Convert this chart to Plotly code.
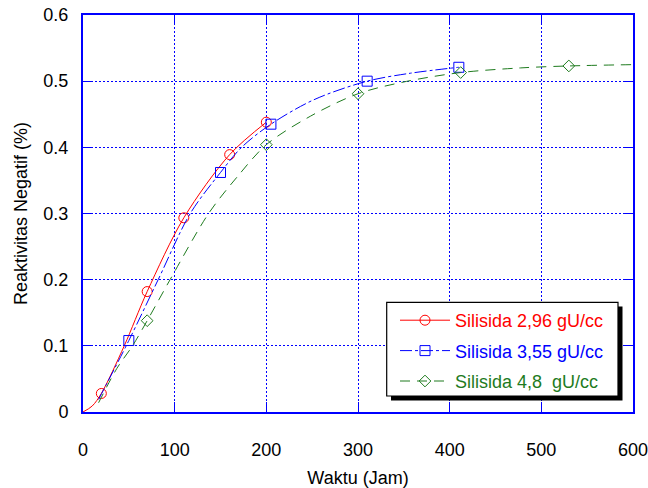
import plotly.graph_objects as go

# Marker points
red_mx = [20, 70, 110, 160, 200]
red_my = [0.028, 0.182, 0.2935, 0.389, 0.438]
blue_mx = [50, 150, 205, 310, 410]
blue_my = [0.108, 0.362, 0.435, 0.500, 0.521]
green_mx = [70, 200, 300, 412, 530]
green_my = [0.138, 0.404, 0.481, 0.513, 0.523]

# Fitted curves
red_cx = [0, 10, 20, 45, 70, 110, 160, 200]
red_cy = [0, 0.009, 0.028, 0.1, 0.182, 0.2935, 0.389, 0.438]
blue_cx = [17, 50, 82, 117, 150, 173, 205, 252, 310, 357, 410]
blue_cy = [0.019, 0.108, 0.2, 0.3, 0.362, 0.4, 0.435, 0.472, 0.500, 0.512, 0.521]
green_cx = [17, 37, 54, 70, 95, 137, 168, 200, 248, 300, 353, 412, 477, 530, 600]
green_cy = [0.014, 0.066, 0.1, 0.138, 0.2, 0.3, 0.355, 0.404, 0.447, 0.481, 0.4997, 0.513, 0.520, 0.523, 0.525]

names = ["Silisida 2,96 gU/cc", "Silisida 3,55 gU/cc", "Silisida 4,8  gU/cc"]
colors = ["#ff0000", "#0000ff", "#1e7b1e"]
dashes = ["solid", "12px,3px,3px,3px", "10px,7px"]
symbols = ["circle-open", "square-open", "diamond-open"]
msizes = [10, 10, 9]

x_ticks = [0, 100, 200, 300, 400, 500, 600]
y_ticks = [0, 0.1, 0.2, 0.3, 0.4, 0.5, 0.6]

FONT = "Liberation Sans, Arial, sans-serif"

fig = go.Figure()
curves = [(red_cx, red_cy), (blue_cx, blue_cy), (green_cx, green_cy)]
marks = [(red_mx, red_my), (blue_mx, blue_my), (green_mx, green_my)]
for i in range(3):
    cx, cy = curves[i]
    mx, my = marks[i]
    fig.add_trace(go.Scatter(x=cx, y=cy, mode="lines", showlegend=False,
                             line=dict(color=colors[i], width=1, dash=dashes[i],
                                       shape="spline", smoothing=0.9),
                             hoverinfo="skip"))
    fig.add_trace(go.Scatter(x=mx, y=my, mode="markers", showlegend=False,
                             marker=dict(symbol=symbols[i], size=msizes[i],
                                         color=colors[i], line=dict(width=1, color=colors[i]))))
for i in range(3):
    fig.add_trace(go.Scatter(x=[None], y=[None], mode="lines+markers", legendgroup="g%d" % i,
                             name="<span style='color:%s'>%s</span>" % (colors[i], names[i].replace("  ", "&nbsp; ")),
                             line=dict(color=colors[i], width=1, dash=dashes[i]),
                             marker=dict(symbol=symbols[i], size=msizes[i],
                                         color=colors[i], line=dict(width=1, color=colors[i]))))

W, H = 648, 488
ml, mr, mt, mb = 83, 15, 15, 76
pw, ph = W - ml - mr, H - mt - mb

def px2paper(px, py):
    return (px - ml) / pw, (H - mb - py) / ph

# legend frame + drop shadow
bx0, by1 = px2paper(386.7, 302.3)
bx1, by0 = px2paper(618, 396)
sx0, sy1 = px2paper(391, 306.5)
sx1, sy0 = px2paper(622.5, 400.5)
fig.add_shape(type="rect", xref="paper", yref="paper", x0=sx0, x1=sx1, y0=sy0, y1=sy1,
              fillcolor="black", line=dict(width=0), layer="above")
fig.add_shape(type="rect", xref="paper", yref="paper", x0=bx0, x1=bx1, y0=by0, y1=by1,
              fillcolor="white", line=dict(width=1.2, color="black"), layer="above")

lx0, ly0 = px2paper(395, 302)

axis_common = dict(showline=True, linecolor="#0000ff", linewidth=2, mirror="ticks",
                   ticks="inside", ticklen=10, tickcolor="#0000ff", tickwidth=1,
                   showgrid=True, gridcolor="#0000ff", griddash="2px,2px", gridwidth=1,
                   zeroline=False, automargin=False, ticklabeloverflow="allow",
                   tickfont=dict(family=FONT, size=18, color="black"))

fig.update_xaxes(range=[0, 600], tickvals=x_ticks, ticklabelstandoff=20,
                 title=dict(text="Waktu (Jam)", font=dict(family=FONT, size=18, color="black"), standoff=16),
                 **axis_common)
fig.update_yaxes(range=[0, 0.6], tickvals=y_ticks, ticklabelstandoff=9,
                 title=dict(text="Reaktivitas Negatif (%)", font=dict(family=FONT, size=18, color="black"), standoff=11),
                 **axis_common)

fig.update_layout(width=W, height=H, margin=dict(l=ml, r=mr, t=mt, b=mb, autoexpand=False),
                  plot_bgcolor="white", paper_bgcolor="white",
                  font=dict(family=FONT, size=18, color="black"),
                  legend=dict(x=lx0, y=ly0, xanchor="left", yanchor="top",
                              bgcolor="rgba(0,0,0,0)", borderwidth=0,
                              font=dict(family=FONT, size=18), itemwidth=50,
                              tracegroupgap=4))

fig.write_html("out.html", config={"displayModeBar": False},
               post_script="document.body.style.margin='0';document.body.style.padding='0';")
